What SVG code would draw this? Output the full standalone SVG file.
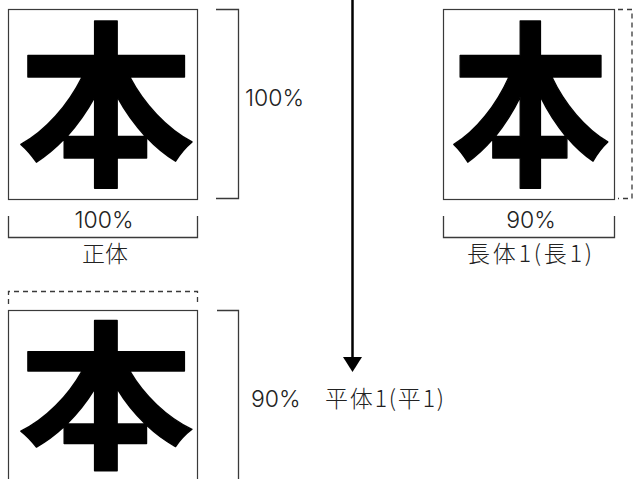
<svg xmlns="http://www.w3.org/2000/svg" width="633" height="479" viewBox="0 0 633 479">
<style>
.box{fill:none;stroke:#3a3a3a;stroke-width:1.2}
.br{fill:none;stroke:#3a3a3a;stroke-width:1.3}
.dash{fill:none;stroke:#3a3a3a;stroke-width:1.3;stroke-dasharray:5 4}
.big{font-family:"Noto Sans CJK JP","Noto Sans CJK SC",sans-serif;font-weight:700;font-size:177px;fill:#000;stroke:#000;stroke-width:1.5;stroke-linejoin:round}
.lbl{font-family:"Noto Sans CJK JP","Noto Sans CJK SC","Liberation Sans",sans-serif;font-weight:300;font-size:23px;fill:#222}
.num{font-family:Inter,"Liberation Sans",sans-serif;font-weight:300;font-size:23px;fill:#222}
</style>
<rect width="633" height="479" fill="#fff"/>
<g id="connectors">
<line x1="352.5" y1="0" x2="352.5" y2="358" stroke="#000" stroke-width="2.5"/>
<polygon points="343,357 362,357 352.5,372" fill="#000"/>
</g>
<g id="seitai">
<rect class="box" x="8.5" y="9.5" width="189" height="190"/>
<text class="big" x="17.5" y="171.5">本</text>
<path class="br" d="M216,9.5H238.5V198.5H216"/>
<text class="num" x="245" y="106">100%</text>
<path class="br" d="M8.5,216V237.5H197.5V216"/>
<text class="num" x="104" y="228" text-anchor="middle">100%</text>
<text class="lbl" x="105" y="262" text-anchor="middle">正体</text>
</g>
<g id="chotai">
<rect class="box" x="443.5" y="9.5" width="171" height="190"/>
<g transform="translate(443.5,0) scale(0.9,1)"><text class="big" x="8" y="171.5">本</text></g>
<path class="dash" d="M618,9.5H632V198.5H618"/>
<path class="br" d="M443.5,216V237.5H614.5V216"/>
<text class="num" x="531" y="228" text-anchor="middle">90%</text>
<text class="lbl" x="467" y="262" textLength="125">長体1(長1)</text>
</g>
<g id="heitai">
<path class="dash" d="M8.5,304V291.5H197.5V304"/>
<rect class="box" x="8.5" y="310.5" width="189" height="171"/>
<g transform="translate(8.5,310.5) scale(1,0.9)"><text class="big" x="9" y="162">本</text></g>
<path class="br" d="M217,310.5H238.5V480"/>
<text class="num" x="251" y="407">90%</text>
<text class="lbl" x="325" y="407" textLength="119">平体1(平1)</text>
</g>
</svg>
